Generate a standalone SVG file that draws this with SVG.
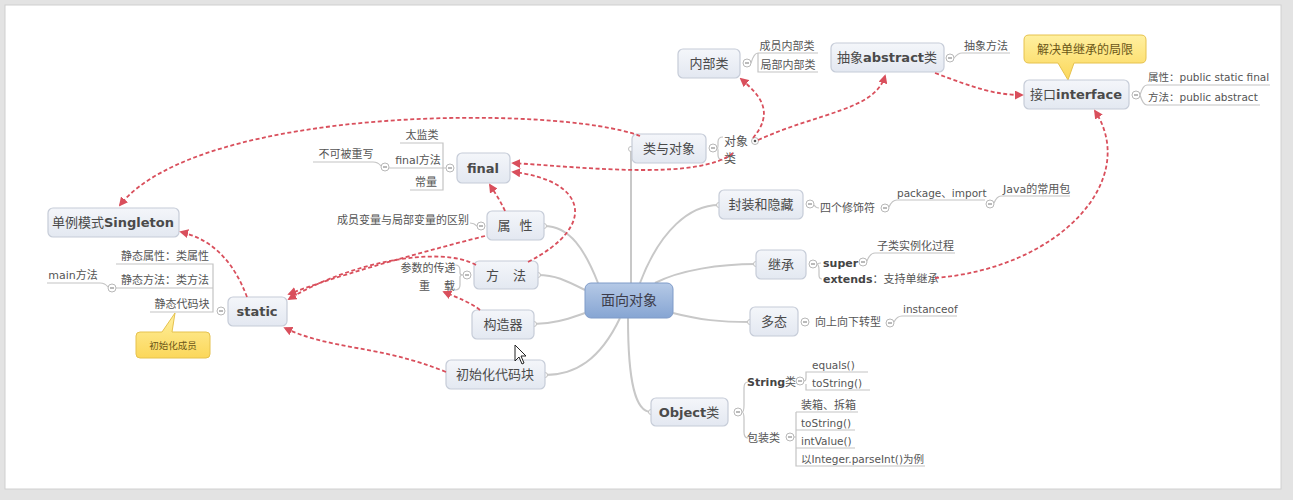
<svg xmlns="http://www.w3.org/2000/svg" width="1293" height="500" viewBox="0 0 1293 500">
<defs>
<linearGradient id="gc" x1="0" y1="0" x2="0" y2="1"><stop offset="0" stop-color="#b5c9e6"/><stop offset="1" stop-color="#86a5d3"/></linearGradient>
<linearGradient id="gn" x1="0" y1="0" x2="0" y2="1"><stop offset="0" stop-color="#f4f6fa"/><stop offset="1" stop-color="#e3e8f1"/></linearGradient>
<linearGradient id="gy" x1="0" y1="0" x2="0" y2="1"><stop offset="0" stop-color="#fff0a0"/><stop offset="1" stop-color="#fbd75a"/></linearGradient>
<marker id="ah" viewBox="0 0 10 10" refX="8" refY="5" markerWidth="9" markerHeight="9" markerUnits="userSpaceOnUse" orient="auto"><path d="M0,0 L10,5 L0,10 z" fill="#d94f5c"/></marker>
</defs>
<style>
text{font-family:"DejaVu Sans","Noto Sans CJK SC",sans-serif;}
.n{fill:url(#gn);stroke:#c6ccd8;stroke-width:1.2;}
.nt{font-size:13px;fill:#4a4a4a;text-anchor:middle;}
.b{font-weight:bold;}
.lt{font-size:11px;fill:#555;}
.ul{fill:none;stroke:#c4c4c4;stroke-width:1.2;}
.br{fill:none;stroke:#c8c8c8;stroke-width:2;}
.c{fill:#fff;stroke:#b8b8b8;stroke-width:1;}
.cm{stroke:#777;stroke-width:1;}
.cs{fill:#fff;stroke:#c0c0c0;stroke-width:1;}
.ar{fill:none;stroke:#d94f5c;stroke-width:1.8;stroke-dasharray:4 2.5;marker-end:url(#ah);}
.y{fill:url(#gy);stroke:#e6c24e;stroke-width:1;}
.yt{fill:#6b5718;text-anchor:middle;}
</style>
<rect x="0" y="0" width="1293" height="500" fill="#e3e3e3"/>
<rect x="5" y="5" width="1276" height="484" fill="#ffffff" stroke="#d0d0d0"/>

<g id="branches">
<path class="br" d="M631,283 L631,149"/>
<path class="br" d="M628,318 C628,385 636,412 651,412"/>
<path class="br" d="M640,283 C660,230 690,205 719,205"/>
<path class="br" d="M655,283 C680,270 720,264 756,264"/>
<path class="br" d="M673,313 C700,320 720,322 750,322"/>
<path class="br" d="M598,283 C585,250 570,226 544,226"/>
<path class="br" d="M585,290 C565,280 555,275 538,275"/>
<path class="br" d="M585,313 C570,318 555,324 534,324"/>
<path class="br" d="M620,318 C600,360 575,375 545,375"/>
<circle class="cs" cx="631" cy="149" r="2.5"/>
<circle class="cs" cx="651" cy="412" r="2.5"/>
<circle class="cs" cx="719" cy="205" r="2.5"/>
<circle class="cs" cx="756" cy="264" r="2.5"/>
<circle class="cs" cx="750" cy="322" r="2.5"/>
<circle class="cs" cx="544" cy="226" r="2.5"/>
<circle class="cs" cx="538" cy="275" r="2.5"/>
<circle class="cs" cx="534" cy="324" r="2.5"/>
<circle class="cs" cx="545" cy="375" r="2.5"/>
</g>

<g id="center"><rect x="585" y="283" width="88" height="35" rx="6" fill="url(#gc)" stroke="#7f9bc8"/><text x="629" y="305" class="nt" style="font-size:14px;fill:#3c3c4a">面向对象</text></g>

<g id="lei-duixiang">
<rect class="n" x="632" y="134" width="74" height="29" rx="5"/><text class="nt" x="669" y="153">类与对象</text>
<circle class="c" cx="713" cy="148" r="4"/><path class="cm" d="M711,148 H715"/>
<path class="ul" d="M723,137 Q718,137 718,142 V146 Q718,148 717,148 Q718,148 718,150 V155 Q718,160 723,160"/>
<text class="lt" x="724" y="146" style="font-size:12px">对象</text>
<text class="lt" x="724" y="163" style="font-size:12px">类</text>
<circle class="c" cx="755" cy="141" r="3.5"/><circle cx="755" cy="141" r="1.3" fill="#555"/>
</g>

<g id="neibulei">
<rect class="n" x="678" y="49" width="62" height="29" rx="5"/><text class="nt" x="709" y="68">内部类</text>
<circle class="c" cx="747" cy="63" r="4"/><path class="cm" d="M745,63 H749"/>
<path class="ul" d="M751,63 Q754,53 758,53 H818 M758,53 V72 H818"/>
<text class="lt" x="787" y="50" text-anchor="middle">成员内部类</text>
<text class="lt" x="788" y="69" text-anchor="middle">局部内部类</text>
</g>

<g id="abstract">
<rect class="n" x="831" y="43" width="113" height="29" rx="5"/><text class="nt" x="887" y="62">抽象<tspan class="b">abstract</tspan>类</text>
<circle class="c" cx="950" cy="58" r="4"/><path class="cm" d="M948,58 H952"/>
<path class="ul" d="M954,58 Q958,53 962,53 H1010"/>
<text class="lt" x="986" y="50" text-anchor="middle">抽象方法</text>
</g>

<g id="note-interface">
<path class="y" d="M1029,35 H1141 Q1146,35 1146,40 V58 Q1146,63 1141,63 H1074 L1068,80 L1058,63 H1029 Q1024,63 1024,58 V40 Q1024,35 1029,35 Z"/>
<text class="yt" x="1085" y="54" style="font-size:12px">解决单继承的局限</text>
</g>

<g id="interface">
<rect class="n" x="1024" y="80" width="105" height="29" rx="5"/><text class="nt" x="1076" y="99">接口<tspan class="b">interface</tspan></text>
<circle class="c" cx="1136" cy="95" r="4"/><path class="cm" d="M1134,95 H1138"/>
<path class="ul" d="M1140,95 Q1143,85 1147,85 H1270 M1140,95 Q1143,105 1147,105 H1260"/>
<text class="lt" x="1148" y="81" style="font-size:10.5px">属性：public static final</text>
<text class="lt" x="1148" y="101" style="font-size:10.5px">方法：public abstract</text>
</g>

<g id="final">
<rect class="n" x="457" y="153" width="53" height="30" rx="5"/><text class="nt b" x="483" y="173">final</text>
<circle class="c" cx="450" cy="168" r="4"/><path class="cm" d="M448,168 H452"/>
<path class="ul" d="M400,143 H443 V190 H410 M389,168 H446"/>
<text class="lt" x="422" y="139" text-anchor="middle">太监类</text>
<text class="lt" x="418" y="164" text-anchor="middle">final方法</text>
<text class="lt" x="426" y="186" text-anchor="middle">常量</text>
<circle class="c" cx="385" cy="167" r="4"/><path class="cm" d="M383,167 H387"/>
<path class="ul" d="M381,166 Q378,162 373,162 H313"/>
<text class="lt" x="346" y="158" text-anchor="middle">不可被重写</text>
</g>

<g id="shuxing">
<rect class="n" x="487" y="211" width="57" height="29" rx="5"/><text class="nt" x="515" y="230">属<tspan dx="9">性</tspan></text>
<circle class="c" cx="481" cy="226" r="4"/><path class="cm" d="M479,226 H483"/>
<path class="ul" d="M470,223 Q474,223 477,226"/>
<text class="lt" x="469" y="224" text-anchor="end">成员变量与局部变量的区别</text>
</g>

<g id="fangfa">
<rect class="n" x="474" y="261" width="64" height="28" rx="5"/><text class="nt" x="506" y="280">方<tspan dx="14">法</tspan></text>
<circle class="c" cx="467" cy="275" r="4"/><path class="cm" d="M465,275 H469"/>
<path class="ul" d="M455,265 Q460,265 460,270 V273 Q460,275 463,275 Q460,275 460,277 V285 Q460,290 455,290"/>
<text class="lt" x="428" y="272" text-anchor="middle">参数的传递</text>
<text class="lt" x="437" y="290" text-anchor="middle">重<tspan dx="14">载</tspan></text>
</g>

<g id="gouzaoqi">
<rect class="n" x="472" y="310" width="62" height="29" rx="5"/><text class="nt" x="503" y="329">构造器</text>
</g>

<g id="chushihua">
<rect class="n" x="446" y="360" width="99" height="29" rx="5"/><text class="nt" x="495" y="379">初始化代码块</text>
</g>

<g id="static">
<rect class="n" x="228" y="297" width="59" height="29" rx="5"/><text class="nt b" x="257" y="316">static</text>
<circle class="c" cx="221" cy="311" r="4"/><path class="cm" d="M219,311 H223"/>
<path class="ul" d="M116,264 H213 V312 H150 M116,288 H213"/>
<text class="lt" x="165" y="260" text-anchor="middle">静态属性：类属性</text>
<text class="lt" x="165" y="284" text-anchor="middle">静态方法：类方法</text>
<text class="lt" x="182" y="308" text-anchor="middle">静态代码块</text>
<circle class="c" cx="112" cy="288" r="4"/><path class="cm" d="M110,288 H114"/>
<path class="ul" d="M108,287 Q105,283 100,283 H47"/>
<text class="lt" x="73" y="279" text-anchor="middle">main方法</text>
</g>

<g id="note-static">
<path class="y" d="M140,332 H162 L175,313 L172,332 H206 Q210,332 210,336 V354 Q210,358 206,358 H140 Q136,358 136,354 V336 Q136,332 140,332 Z"/>
<text class="yt" x="173" y="349" style="font-size:9.5px">初始化成员</text>
</g>

<g id="singleton">
<rect class="n" x="48" y="208" width="131" height="29" rx="5"/><text class="nt" x="113" y="227">单例模式<tspan class="b">Singleton</tspan></text>
</g>

<g id="fengzhuang">
<rect class="n" x="719" y="190" width="84" height="29" rx="5"/><text class="nt" x="761" y="209">封装和隐藏</text>
<circle class="c" cx="810" cy="204" r="4"/><path class="cm" d="M808,204 H812"/>
<path class="ul" d="M814,205 Q816,208 819,208"/>
<text class="lt" x="820" y="212">四个修饰符</text>
<circle class="c" cx="885" cy="208" r="4"/><path class="cm" d="M883,208 H887"/>
<path class="ul" d="M889,207 Q892,200 897,200 H985"/>
<text class="lt" x="897" y="197" style="font-size:10.5px">package、import</text>
<circle class="c" cx="990" cy="204" r="4"/><path class="cm" d="M988,204 H992"/>
<path class="ul" d="M994,203 Q997,196 1001,196 H1070"/>
<text class="lt" x="1003" y="193">Java的常用包</text>
</g>

<g id="jicheng">
<rect class="n" x="756" y="250" width="50" height="29" rx="5"/><text class="nt" x="781" y="269">继承</text>
<circle class="c" cx="813" cy="264" r="4"/><path class="cm" d="M811,264 H815"/>
<path class="ul" d="M817,264 Q819,263 821,263 M817,264 Q819,265 819,270 V275 Q819,279 822,279"/>
<text class="lt b" x="823" y="267" style="font-size:11px;fill:#444">super</text>
<circle class="c" cx="863" cy="262" r="4"/><path class="cm" d="M861,262 H865"/>
<path class="ul" d="M867,261 Q870,253 875,253 H955"/>
<text class="lt" x="877" y="250">子类实例化过程</text>
<text class="lt" x="823" y="283"><tspan class="b" style="font-size:11px;fill:#444">extends</tspan>：支持单继承</text>
</g>

<g id="duotai">
<rect class="n" x="750" y="307" width="48" height="29" rx="5"/><text class="nt" x="774" y="326">多态</text>
<circle class="c" cx="805" cy="322" r="4"/><path class="cm" d="M803,322 H807"/>
<text class="lt" x="815" y="326">向上向下转型</text>
<circle class="c" cx="890" cy="323" r="4"/><path class="cm" d="M888,323 H892"/>
<path class="ul" d="M894,322 Q897,316 902,316 H957"/>
<text class="lt" x="903" y="313" style="font-size:10.5px">instanceof</text>
</g>

<g id="object">
<rect class="n" x="651" y="398" width="77" height="28" rx="5"/><text class="nt" x="689" y="417"><tspan class="b">Object</tspan>类</text>
<circle class="c" cx="738" cy="412" r="4"/><path class="cm" d="M736,412 H740"/>
<path class="ul" d="M742,412 Q744,412 744,405 V388 Q744,382 748,382 M742,412 Q744,412 744,419 V432 Q744,438 748,438"/>
<text class="lt" x="747" y="386"><tspan class="b" style="font-size:11px;fill:#444">String</tspan>类</text>
<circle class="c" cx="800" cy="381" r="4"/><path class="cm" d="M798,381 H802"/>
<path class="ul" d="M804,381 Q806,381 806,378 V372 H868 M806,384 V390 H870"/>
<text class="lt" x="812" y="369" style="font-size:10.5px">equals()</text>
<text class="lt" x="812" y="387" style="font-size:10.5px">toString()</text>
<text class="lt" x="747" y="442">包装类</text>
<circle class="c" cx="790" cy="437" r="4"/><path class="cm" d="M788,437 H792"/>
<path class="ul" d="M794,437 H796 M796,412 H858 M796,412 V466 H925 M796,430 H855 M796,448 H855"/>
<text class="lt" x="801" y="409">装箱、拆箱</text>
<text class="lt" x="801" y="427" style="font-size:10.5px">toString()</text>
<text class="lt" x="801" y="445" style="font-size:10.5px">intValue()</text>
<text class="lt" x="801" y="463" style="font-size:10.5px">以Integer.parseInt()为例</text>
</g>

<g id="connectors">
<path class="ar" d="M640,136 C560,105 200,105 120,205"/>
<path class="ar" d="M753,138 C775,112 760,95 741,79"/>
<path class="ar" d="M758,140 C820,112 875,110 885,76"/>
<path class="ar" d="M733,153 C700,180 590,168 513,163"/>
<path class="ar" d="M528,262 C600,225 585,180 513,172"/>
<path class="ar" d="M505,211 C500,200 495,193 490,185"/>
<path class="ar" d="M485,236 C410,255 330,278 289,294"/>
<path class="ar" d="M476,265 C440,245 350,262 289,299"/>
<path class="ar" d="M480,310 C470,302 458,298 444,292"/>
<path class="ar" d="M446,372 C380,345 330,350 285,328"/>
<path class="ar" d="M247,297 C235,265 215,240 181,232"/>
<path class="ar" d="M935,73 C975,88 995,95 1022,95"/>
<path class="ar" d="M935,278 C1060,268 1140,180 1095,111"/>
</g>

<path d="M515,345 V361 L519,357 L522,364 L524,363 L521,356 L526,356 Z" fill="#fff" stroke="#222" stroke-width="1"/>
</svg>
